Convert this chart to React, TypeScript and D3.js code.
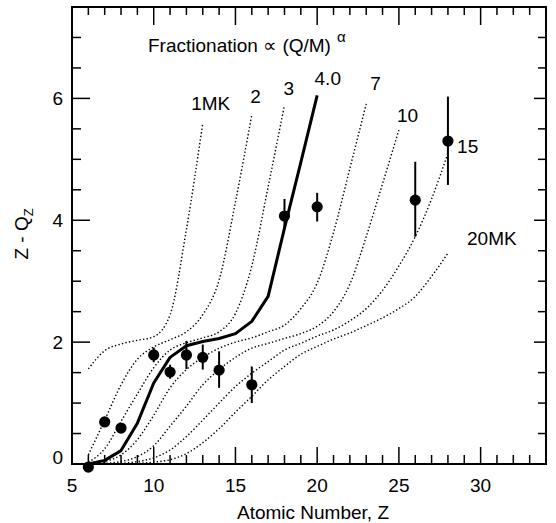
import React from 'react';
import * as d3 from 'd3';

// Z - Q_Z curves for each temperature, starting at Z = 6
const T1_MK = [1.56, 1.86, 1.97, 2.03, 2.09, 2.45, 3.85, 5.59];
const T2_MK = [0.15, 0.72, 1.3, 1.72, 1.92, 2.04, 2.17, 2.45, 3.02, 4.3, 5.73];
const T3_MK = [0.03, 0.25, 0.7, 1.15, 1.58, 1.87, 1.99, 2.07, 2.17, 2.47, 3.25, 4.55, 5.89];
const T4_MK = [0.0, 0.06, 0.22, 0.67, 1.33, 1.75, 1.94, 2.01, 2.06, 2.14, 2.34, 2.75, 3.87, 4.95, 6.05];
const T7_MK = [0.0, 0.04, 0.15, 0.4, 0.8, 1.25, 1.55, 1.75, 1.9, 2.0, 2.07, 2.17, 2.28, 2.55, 2.97, 3.8, 4.85, 5.91];
const T10_MK = [0.0, 0.01, 0.04, 0.12, 0.3, 0.62, 0.95, 1.3, 1.55, 1.75, 1.9, 1.98, 2.06, 2.14, 2.26, 2.5, 2.95, 3.73, 4.6, 5.48];
const T15_MK = [0.0, 0.0, 0.01, 0.04, 0.1, 0.23, 0.45, 0.72, 1.0, 1.27, 1.49, 1.68, 1.87, 1.98, 2.1, 2.2, 2.35, 2.55, 2.85, 3.25, 3.73, 4.35, 5.1];
const T20_MK = [0.0, 0.0, 0.0, 0.01, 0.03, 0.07, 0.17, 0.35, 0.58, 0.85, 1.11, 1.38, 1.6, 1.8, 1.93, 2.05, 2.15, 2.27, 2.4, 2.55, 2.75, 3.08, 3.46];

const DOTTED_CURVES = [T1_MK, T2_MK, T3_MK, T7_MK, T10_MK, T15_MK, T20_MK];

// measured points
const OBS_Z = [6, 7, 8, 10, 11, 12, 13, 14, 16, 18, 20, 26, 28];
const OBS_V = [-0.05, 0.69, 0.59, 1.79, 1.51, 1.79, 1.75, 1.54, 1.3, 4.07, 4.22, 4.33, 5.3];
const OBS_LO = [-0.05, 0.69, 0.59, 1.67, 1.4, 1.56, 1.55, 1.25, 1.0, 3.85, 3.98, 3.73, 4.58];
const OBS_HI = [-0.05, 0.69, 0.59, 1.91, 1.63, 2.02, 1.96, 1.85, 1.6, 4.35, 4.45, 4.96, 6.03];

// curve labels (text, Z, value at baseline)
const LABEL_TEXT = ['1MK', '2', '3', '4.0', '7', '10', '15', '20MK'];
const LABEL_Z = [12.29, 15.9, 17.94, 19.84, 23.25, 24.88, 28.56, 29.17];
const LABEL_V = [5.81, 5.92, 6.05, 6.22, 6.14, 5.62, 5.1, 3.6];

const X_TICKS = [5, 10, 15, 20, 25, 30];
const Y_TICKS = [0, 2, 4, 6];

const W = 556;
const H = 523;
const FONT = '"Liberation Sans", Arial, Helvetica, sans-serif';

export default function App() {
  const x = d3.scaleLinear().domain([5, 34]).range([72, 546]);
  const y = d3.scaleLinear().domain([0, 7.5]).range([464, 7]);

  const toPts = (vals: number[]) => vals.map((v, i) => [6 + i, v] as [number, number]);

  const smooth = d3.line<[number, number]>()
    .x(d => x(d[0]))
    .y(d => y(d[1]))
    .curve(d3.curveMonotoneX);

  const straight = d3.line<[number, number]>()
    .x(d => x(d[0]))
    .y(d => y(d[1]));

  const [x0, x1] = x.range();
  const [yb, yt] = y.range();

  const xMinor = d3.range(5, 35, 1);
  const yMinor = d3.range(0, 7.51, 0.5);

  return (
    <svg width={W} height={H} style={{ position: 'absolute', left: 0, top: 0, background: '#fff' }}
      fontFamily={FONT}>
      {/* dotted temperature curves */}
      {DOTTED_CURVES.map((c, i) => (
        <path key={i} d={smooth(toPts(c)) || ''} fill="none" stroke="#000"
          strokeWidth={1.4} strokeDasharray="1.4 2.2" />
      ))}
      {/* 4.0 MK solid */}
      <path d={straight(toPts(T4_MK)) || ''} fill="none" stroke="#000" strokeWidth={3}
        strokeLinejoin="round" />

      {/* error bars and points */}
      {OBS_Z.map((z, i) => (
        <g key={i}>
          {OBS_HI[i] > OBS_LO[i] && (
            <line x1={x(z)} x2={x(z)} y1={y(OBS_LO[i])} y2={y(OBS_HI[i])} stroke="#000" strokeWidth={2} />
          )}
          <circle cx={x(z)} cy={y(OBS_V[i])} r={5.6} fill="#000" />
        </g>
      ))}

      {/* frame */}
      <rect x={x0} y={yt} width={x1 - x0} height={yb - yt} fill="none" stroke="#000" strokeWidth={2} />

      {/* ticks */}
      {xMinor.map(v => {
        const major = v % 5 === 0;
        return (
          <g key={'xt' + v} stroke="#000" strokeWidth={1.5}>
            <line x1={x(v)} x2={x(v)} y1={yb} y2={yb - (major ? 17 : 9)} />
            <line x1={x(v)} x2={x(v)} y1={yt} y2={yt + (major ? 18 : 8)} />
          </g>
        );
      })}
      {yMinor.map(v => {
        const major = v % 2 === 0;
        return (
          <g key={'yt' + v} stroke="#000" strokeWidth={1.5}>
            <line x1={x0} x2={x0 + (major ? 18 : 9)} y1={y(v)} y2={y(v)} />
            <line x1={x1} x2={x1 - (major ? 12 : 8)} y1={y(v)} y2={y(v)} />
          </g>
        );
      })}

      {/* tick labels */}
      {X_TICKS.map(v => (
        <text key={'xl' + v} x={x(v)} y={yb + 28} fontSize={19} textAnchor="middle">{v}</text>
      ))}
      {Y_TICKS.map(v => (
        <text key={'yl' + v} x={x0 - 9} y={y(v) + 7 - (v === 0 ? 7 : 0)} fontSize={19} textAnchor="end">{v}</text>
      ))}

      {/* axis titles */}
      <text x={(x0 + x1) / 2 + 4} y={519} fontSize={19} textAnchor="middle">Atomic Number, Z</text>
      <text transform="translate(28,234) rotate(-90)" fontSize={19} textAnchor="middle">
        Z - Q<tspan fontSize={13} dy={5}>Z</tspan>
      </text>

      {/* title */}
      <text x={x(9.65)} y={y(6.76)} fontSize={19}>
        Fractionation ∝ (Q/M)<tspan fontSize={15} dy={-10} dx={6}>α</tspan>
      </text>

      {/* curve labels */}
      {LABEL_TEXT.map((t, i) => (
        <text key={'lb' + i} x={x(LABEL_Z[i])} y={y(LABEL_V[i])} fontSize={19}>{t}</text>
      ))}
    </svg>
  );
}
